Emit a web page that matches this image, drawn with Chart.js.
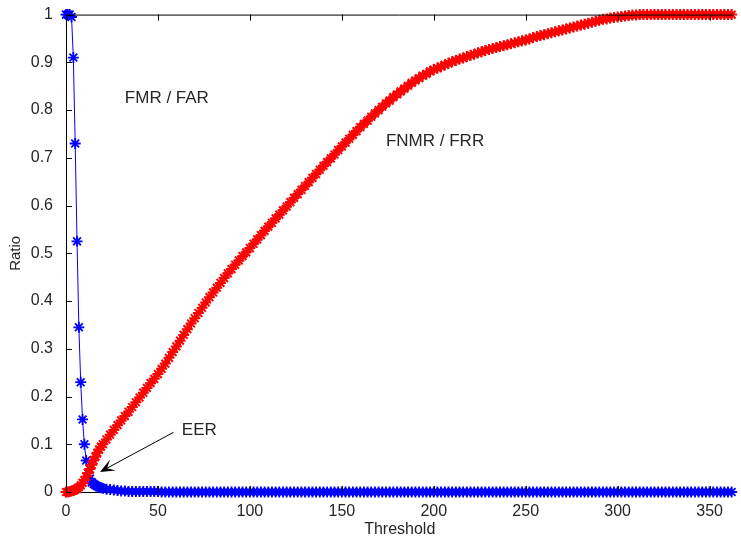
<!DOCTYPE html>
<html>
<head>
<meta charset="utf-8">
<script src="https://cdn.jsdelivr.net/npm/chart.js@4/dist/chart.umd.min.js"></script>
<style>
  html, body { margin: 0; padding: 0; background: #fff; }
  #wrap { width: 741px; height: 544px; }
</style>
</head>
<body>
<div id="wrap"><canvas id="errChart"></canvas></div>
<script>
// thresholds: step 1 up to 19, then step 2
const thresholds = [
  0, 1, 2, 3, 4, 5, 6, 7, 8, 9, 10, 11, 12, 13, 14, 15, 16, 17, 18, 19,
  20, 22, 24, 26, 28, 30, 32, 34, 36, 38, 40, 42, 44, 46, 48, 50, 52, 54, 56, 58,
  60, 62, 64, 66, 68, 70, 72, 74, 76, 78, 80, 82, 84, 86, 88, 90, 92, 94, 96, 98,
  100, 102, 104, 106, 108, 110, 112, 114, 116, 118, 120, 122, 124, 126, 128, 130, 132, 134, 136, 138,
  140, 142, 144, 146, 148, 150, 152, 154, 156, 158, 160, 162, 164, 166, 168, 170, 172, 174, 176, 178,
  180, 182, 184, 186, 188, 190, 192, 194, 196, 198, 200, 202, 204, 206, 208, 210, 212, 214, 216, 218,
  220, 222, 224, 226, 228, 230, 232, 234, 236, 238, 240, 242, 244, 246, 248, 250, 252, 254, 256, 258,
  260, 262, 264, 266, 268, 270, 272, 274, 276, 278, 280, 282, 284, 286, 288, 290, 292, 294, 296, 298,
  300, 302, 304, 306, 308, 310, 312, 314, 316, 318, 320, 322, 324, 326, 328, 330, 332, 334, 336, 338,
  340, 342, 344, 346, 348, 350, 352, 354, 356, 358, 360, 362
];

// FMR / FAR (blue)
const fmr = [
  1, 1, 1, 0.995, 0.91, 0.73, 0.525, 0.345, 0.23, 0.152, 0.1, 0.066, 0.04, 0.028, 0.02, 0.017, 0.014, 0.012, 0.01, 0.009,
  0.008, 0.006, 0.005, 0.004, 0.003, 0.002, 0.002, 0.001, 0.001, 0.001, 0.001, 0.001, 0.001, 0.001, 0.001, 0.001, 0, 0, 0, 0,
  0, 0, 0, 0, 0, 0, 0, 0, 0, 0, 0, 0, 0, 0, 0, 0, 0, 0, 0, 0,
  0, 0, 0, 0, 0, 0, 0, 0, 0, 0, 0, 0, 0, 0, 0, 0, 0, 0, 0, 0,
  0, 0, 0, 0, 0, 0, 0, 0, 0, 0, 0, 0, 0, 0, 0, 0, 0, 0, 0, 0,
  0, 0, 0, 0, 0, 0, 0, 0, 0, 0, 0, 0, 0, 0, 0, 0, 0, 0, 0, 0,
  0, 0, 0, 0, 0, 0, 0, 0, 0, 0, 0, 0, 0, 0, 0, 0, 0, 0, 0, 0,
  0, 0, 0, 0, 0, 0, 0, 0, 0, 0, 0, 0, 0, 0, 0, 0, 0, 0, 0, 0,
  0, 0, 0, 0, 0, 0, 0, 0, 0, 0, 0, 0, 0, 0, 0, 0, 0, 0, 0, 0,
  0, 0, 0, 0, 0, 0, 0, 0, 0, 0, 0, 0
];

// FNMR / FRR (red)
const fnmr = [
  0, 0, 0.001, 0.002, 0.003, 0.005, 0.007, 0.01, 0.014, 0.019, 0.025, 0.032, 0.04, 0.048, 0.057, 0.066, 0.074, 0.082, 0.089, 0.095,
  0.1, 0.11, 0.12, 0.13, 0.14, 0.15, 0.159, 0.168, 0.178, 0.188, 0.198, 0.208, 0.218, 0.228, 0.237, 0.247, 0.258, 0.269, 0.281, 0.293,
  0.305, 0.317, 0.329, 0.341, 0.353, 0.364, 0.375, 0.386, 0.397, 0.408, 0.418, 0.428, 0.438, 0.448, 0.458, 0.467, 0.476, 0.485, 0.494, 0.502,
  0.511, 0.52, 0.529, 0.538, 0.547, 0.556, 0.564, 0.573, 0.581, 0.59, 0.598, 0.607, 0.616, 0.624, 0.633, 0.641, 0.649, 0.658, 0.666, 0.675,
  0.683, 0.691, 0.699, 0.707, 0.716, 0.724, 0.732, 0.74, 0.748, 0.756, 0.764, 0.771, 0.778, 0.786, 0.793, 0.8, 0.807, 0.814, 0.82, 0.827,
  0.833, 0.839, 0.845, 0.851, 0.857, 0.862, 0.867, 0.872, 0.876, 0.881, 0.885, 0.888, 0.891, 0.895, 0.898, 0.901, 0.904, 0.907, 0.909, 0.912,
  0.915, 0.917, 0.92, 0.922, 0.925, 0.927, 0.929, 0.931, 0.933, 0.935, 0.937, 0.939, 0.941, 0.943, 0.945, 0.947, 0.949, 0.952, 0.954, 0.956,
  0.958, 0.96, 0.962, 0.964, 0.966, 0.968, 0.97, 0.972, 0.974, 0.976, 0.978, 0.98, 0.982, 0.984, 0.986, 0.988, 0.99, 0.991, 0.993, 0.994,
  0.995, 0.996, 0.997, 0.998, 0.999, 0.999, 1, 1, 1, 1, 1, 1, 1, 1, 1, 1, 1, 1, 1, 1,
  1, 1, 1, 1, 1, 1, 1, 1, 1, 1, 1, 1
];

const xTicks = [0, 50, 100, 150, 200, 250, 300, 350];
const yTicks = [0, 0.1, 0.2, 0.3, 0.4, 0.5, 0.6, 0.7, 0.8, 0.9, 1];

// text notes, in data coordinates
const notes = [
  { text: 'FMR / FAR', x: 32, y: 0.824 },
  { text: 'FNMR / FRR', x: 174, y: 0.734 },
  { text: 'EER', x: 63, y: 0.13 }
];
const eerArrow = { from: [58.5, 0.125], to: [18.5, 0.042] };

const FONT = '"Liberation Sans", Arial, sans-serif';
const TEXT = '#262626';

function toPoints(ys) {
  return thresholds.map((t, i) => ({ x: t, y: ys[i] }));
}

// matlab style: ticks inside, box on top, notes + arrow
const axesDeco = {
  id: 'axesDeco',
  afterDatasetsDraw(chart) {
    const { ctx, chartArea, scales } = chart;
    const xs = scales.x, ys = scales.y;
    const len = 6;
    ctx.save();
    ctx.strokeStyle = '#000';
    ctx.lineWidth = 1;
    ctx.beginPath();
    ctx.moveTo(chartArea.left, chartArea.top + 0.5);
    ctx.lineTo(chartArea.right, chartArea.top + 0.5);
    xTicks.forEach(v => {
      const px = Math.round(xs.getPixelForValue(v)) + 0.5;
      ctx.moveTo(px, chartArea.bottom);
      ctx.lineTo(px, chartArea.bottom - len);
      ctx.moveTo(px, chartArea.top);
      ctx.lineTo(px, chartArea.top + len);
    });
    yTicks.forEach(v => {
      const py = Math.round(ys.getPixelForValue(v)) + 0.5;
      ctx.moveTo(chartArea.left, py);
      ctx.lineTo(chartArea.left + len, py);
    });
    ctx.stroke();

    ctx.fillStyle = TEXT;
    ctx.font = '17px ' + FONT;
    ctx.textBaseline = 'middle';
    ctx.textAlign = 'left';
    notes.forEach(n => {
      ctx.fillText(n.text, xs.getPixelForValue(n.x), ys.getPixelForValue(n.y));
    });

    const x1 = xs.getPixelForValue(eerArrow.from[0]), y1 = ys.getPixelForValue(eerArrow.from[1]);
    const x2 = xs.getPixelForValue(eerArrow.to[0]), y2 = ys.getPixelForValue(eerArrow.to[1]);
    const ang = Math.atan2(y2 - y1, x2 - x1);
    const head = 16;
    ctx.strokeStyle = '#000';
    ctx.beginPath();
    ctx.moveTo(x1, y1);
    ctx.lineTo(x2 - Math.cos(ang) * 8, y2 - Math.sin(ang) * 8);
    ctx.stroke();
    ctx.fillStyle = '#000';
    ctx.beginPath();
    ctx.moveTo(x2, y2);
    ctx.lineTo(x2 - head * Math.cos(ang - 0.4), y2 - head * Math.sin(ang - 0.4));
    ctx.lineTo(x2 - head * 0.5 * Math.cos(ang), y2 - head * 0.5 * Math.sin(ang));
    ctx.lineTo(x2 - head * Math.cos(ang + 0.4), y2 - head * Math.sin(ang + 0.4));
    ctx.closePath();
    ctx.fill();
    ctx.restore();
  }
};

new Chart(document.getElementById('errChart'), {
  type: 'line',
  data: {
    datasets: [
      {
        label: 'FNMR / FRR',
        data: toPoints(fnmr),
        borderColor: '#ff0000',
        backgroundColor: '#ff0000',
        borderWidth: 1,
        pointStyle: 'star',
        pointRadius: 5.5,
        pointBorderWidth: 2,
        pointBorderColor: '#ff0000',
        tension: 0,
        clip: false
      },
      {
        label: 'FMR / FAR',
        data: toPoints(fmr),
        borderColor: '#0000ff',
        backgroundColor: '#0000ff',
        borderWidth: 1,
        pointStyle: 'star',
        pointRadius: 5.5,
        pointBorderWidth: 1.8,
        pointBorderColor: '#0000ff',
        tension: 0,
        clip: false
      }
    ]
  },
  options: {
    responsive: true,
    maintainAspectRatio: false,
    animation: false,
    layout: { padding: { top: 14, left: 0, right: 0, bottom: 0 } },
    plugins: {
      legend: { display: false },
      tooltip: { enabled: false }
    },
    scales: {
      x: {
        type: 'linear',
        min: 0,
        max: 363,
        grid: { display: false },
        border: { display: true, color: '#000', width: 1 },
        afterFit: s => { s.height = 52; },
        afterBuildTicks: s => { s.ticks = xTicks.map(v => ({ value: v })); },
        ticks: {
          padding: 2,
          color: TEXT,
          font: { family: FONT, size: 16 },
          maxRotation: 0
        },
        title: {
          display: true,
          text: 'Threshold',
          color: TEXT,
          font: { family: FONT, size: 16 },
          padding: { top: 0, bottom: 5 }
        }
      },
      y: {
        min: 0,
        max: 1,
        grid: { display: false },
        border: { display: true, color: '#000', width: 1 },
        afterFit: s => { s.width = 66; },
        afterBuildTicks: s => { s.ticks = yTicks.map(v => ({ value: v })); },
        ticks: {
          padding: 5,
          color: TEXT,
          font: { family: FONT, size: 16 },
          callback: v => String(+v.toFixed(1))
        },
        title: {
          display: true,
          text: 'Ratio',
          color: TEXT,
          font: { family: FONT, size: 15 },
          padding: { top: 7, bottom: 0 }
        }
      }
    }
  },
  plugins: [axesDeco]
});
</script>
</body>
</html>
